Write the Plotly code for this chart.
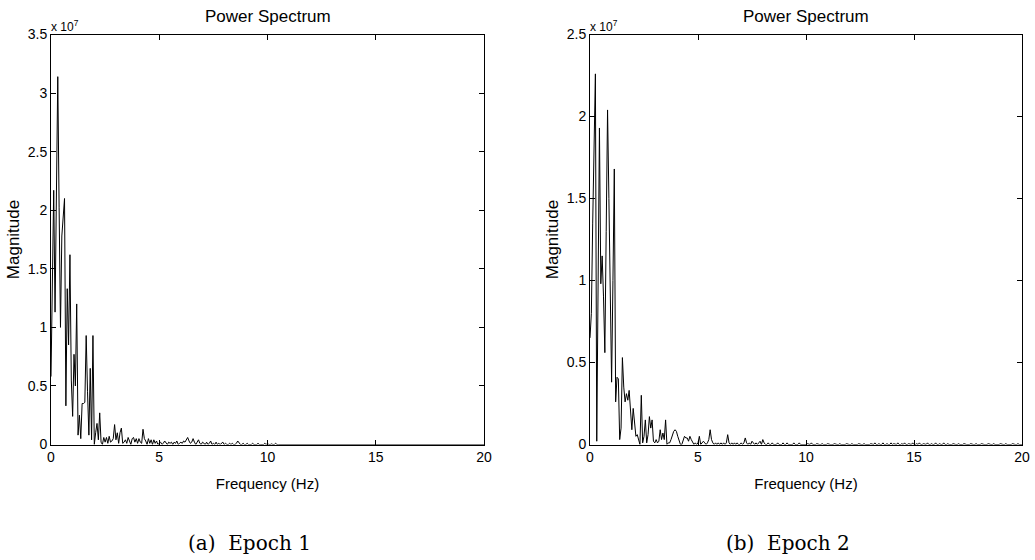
import numpy as np
import plotly.graph_objects as go

# Frequency bins (Hz) and power-spectrum magnitudes (in units of 1e7)
FREQ_STEP = 0.0625
SCALE = 1e7

epoch1 = [
    0.58, 1.38, 2.17, 1.13, 2.10, 3.14, 2.02, 1.00, 1.78, 1.96, 2.10, 0.33, 1.33, 0.85, 1.62, 0.55,
    0.24, 0.77, 0.50, 1.20, 0.08, 0.25, 0.05, 0.35, 0.35, 0.36, 0.93, 0.45, 0.08, 0.65, 0.04, 0.93,
    0.00, 0.10, 0.18, 0.04, 0.27, 0.02, 0.00, 0.06, 0.02, 0.06, 0.01, 0.07, 0.02, 0.03, 0.05, 0.17,
    0.04, 0.10, 0.01, 0.10, 0.14, 0.01, 0.02, 0.04, 0.01, 0.06, 0.03, 0.00, 0.05, 0.06, 0.02, 0.05,
    0.01, 0.05, 0.02, 0.01, 0.13, 0.05, 0.03, 0.00, 0.05, 0.01, 0.04, 0.00, 0.04, 0.01, 0.03, 0.00,
    0.01, 0.02, 0.00, 0.01, 0.03, 0.01, 0.00, 0.02, 0.01, 0.02, 0.00, 0.02, 0.01, 0.03, 0.00, 0.01,
    0.02, 0.01, 0.03, 0.02, 0.04, 0.06, 0.03, 0.01, 0.02, 0.05, 0.02, 0.00, 0.02, 0.04, 0.01, 0.00,
    0.02, 0.01, 0.00, 0.02, 0.00, 0.01, 0.03, 0.00, 0.01, 0.00, 0.02, 0.00, 0.01, 0.00, 0.01, 0.02,
    0.00, 0.01, 0.00, 0.00, 0.01, 0.00, 0.01, 0.00, 0.00, 0.01, 0.03, 0.01, 0.00, 0.00, 0.01, 0.00,
    0.00, 0.01, 0.00, 0.00, 0.00, 0.01, 0.00, 0.00, 0.00, 0.01, 0.00, 0.00, 0.00, 0.00, 0.01, 0.00,
    0.01, 0.00, 0.00, 0.005, 0.00, 0.00, 0.01, 0.00, 0.00, 0.00, 0.005, 0.00, 0.00, 0.005, 0.00, 0.00,
    0.00, 0.005, 0.00, 0.00, 0.00, 0.005, 0.00, 0.00, 0.005, 0.00, 0.00, 0.00, 0.005, 0.00, 0.00, 0.005,
    0.00, 0.00, 0.005, 0.00, 0.00, 0.00, 0.005, 0.00, 0.00, 0.005, 0.00, 0.00, 0.00, 0.005, 0.00, 0.00,
    0.005, 0.00, 0.00, 0.00, 0.005, 0.00, 0.00, 0.00, 0.005, 0.00, 0.00, 0.005, 0.00, 0.00, 0.00, 0.005,
    0.00, 0.00, 0.005, 0.00, 0.00, 0.005, 0.00, 0.00, 0.00, 0.005, 0.00, 0.00, 0.005, 0.00, 0.00, 0.00,
    0.005, 0.00, 0.00, 0.00, 0.00, 0.005, 0.00, 0.00, 0.005, 0.00, 0.00, 0.00, 0.005, 0.00, 0.00, 0.00,
    0.00, 0.005, 0.00, 0.00, 0.005, 0.00, 0.00, 0.00, 0.00, 0.005, 0.00, 0.00, 0.00, 0.005, 0.00, 0.00,
    0.005, 0.00, 0.00, 0.00, 0.005, 0.00, 0.00, 0.005, 0.00, 0.00, 0.00, 0.00, 0.005, 0.00, 0.00, 0.005,
    0.00, 0.00, 0.00, 0.005, 0.00, 0.00, 0.005, 0.00, 0.00, 0.00, 0.005, 0.00, 0.00, 0.00, 0.005, 0.00,
    0.00, 0.005, 0.00, 0.00, 0.00, 0.005, 0.00, 0.00, 0.00, 0.005, 0.00, 0.00, 0.005, 0.00, 0.00, 0.00,
    0.00,
]

epoch2 = [
    0.65, 0.80, 1.35, 1.90, 2.26, 0.02, 0.97, 1.93, 0.98, 1.15, 0.90, 0.56, 1.30, 2.04, 1.50, 0.95,
    0.38, 1.00, 1.68, 0.26, 0.41, 0.40, 0.03, 0.10, 0.53, 0.35, 0.26, 0.31, 0.27, 0.33, 0.20, 0.09,
    0.22, 0.12, 0.05, 0.06, 0.02, 0.00, 0.30, 0.01, 0.05, 0.15, 0.01, 0.06, 0.17, 0.10, 0.15, 0.02,
    0.01, 0.03, 0.01, 0.02, 0.09, 0.03, 0.07, 0.03, 0.15, 0.00, 0.01, 0.01, 0.03, 0.06, 0.08, 0.09,
    0.08, 0.05, 0.02, 0.00, 0.00, 0.02, 0.05, 0.04, 0.04, 0.02, 0.05, 0.03, 0.01, 0.00, 0.01, 0.00,
    0.01, 0.05, 0.00, 0.01, 0.02, 0.01, 0.00, 0.01, 0.03, 0.09, 0.03, 0.01, 0.00, 0.01, 0.00, 0.01,
    0.00, 0.01, 0.00, 0.01, 0.00, 0.01, 0.06, 0.01, 0.00, 0.01, 0.00, 0.01, 0.00, 0.01, 0.00, 0.00,
    0.01, 0.00, 0.01, 0.04, 0.01, 0.00, 0.01, 0.00, 0.02, 0.01, 0.00, 0.01, 0.00, 0.01, 0.02, 0.00,
    0.03, 0.01, 0.00, 0.00, 0.01, 0.00, 0.00, 0.01, 0.00, 0.00, 0.00, 0.01, 0.00, 0.00, 0.00, 0.01,
    0.00, 0.00, 0.01, 0.00, 0.00, 0.00, 0.00, 0.01, 0.00, 0.00, 0.00, 0.01, 0.00, 0.00, 0.00, 0.00,
    0.00, 0.005, 0.00, 0.00, 0.01, 0.00, 0.00, 0.00, 0.005, 0.00, 0.00, 0.00, 0.005, 0.00, 0.00, 0.00,
    0.005, 0.00, 0.00, 0.00, 0.00, 0.005, 0.00, 0.00, 0.00, 0.005, 0.00, 0.00, 0.00, 0.00, 0.005, 0.00,
    0.00, 0.00, 0.005, 0.00, 0.00, 0.00, 0.00, 0.005, 0.00, 0.00, 0.00, 0.005, 0.00, 0.00, 0.00, 0.00,
    0.005, 0.00, 0.00, 0.01, 0.00, 0.00, 0.005, 0.00, 0.00, 0.01, 0.00, 0.00, 0.005, 0.00, 0.00, 0.01,
    0.00, 0.005, 0.00, 0.00, 0.01, 0.00, 0.00, 0.005, 0.00, 0.01, 0.00, 0.00, 0.005, 0.00, 0.00, 0.01,
    0.00, 0.00, 0.005, 0.00, 0.01, 0.00, 0.00, 0.005, 0.00, 0.00, 0.01, 0.00, 0.00, 0.005, 0.00, 0.00,
    0.01, 0.00, 0.00, 0.005, 0.00, 0.00, 0.01, 0.00, 0.00, 0.005, 0.00, 0.00, 0.00, 0.005, 0.00, 0.00,
    0.00, 0.005, 0.00, 0.00, 0.00, 0.005, 0.00, 0.00, 0.00, 0.00, 0.005, 0.00, 0.00, 0.00, 0.005, 0.00,
    0.00, 0.00, 0.005, 0.00, 0.00, 0.00, 0.00, 0.005, 0.00, 0.00, 0.00, 0.005, 0.00, 0.00, 0.00, 0.00,
    0.005, 0.00, 0.00, 0.00, 0.005, 0.00, 0.00, 0.00, 0.00, 0.005, 0.00, 0.00, 0.00, 0.005, 0.00, 0.00,
    0.00,
]

y1_ticks = [0, 0.5, 1, 1.5, 2, 2.5, 3, 3.5]
y2_ticks = [0, 0.5, 1, 1.5, 2, 2.5]
x_ticks = [0, 5, 10, 15, 20]
titles = ["Power Spectrum", "Power Spectrum"]
captions = ["(a)\u00a0\u00a0Epoch 1", "(b)\u00a0\u00a0Epoch 2"]
x_label = "Frequency (Hz)"
y_label = "Magnitude"
exp_label = "x 10<sup>7</sup>"

freq1 = np.arange(len(epoch1)) * FREQ_STEP
freq2 = np.arange(len(epoch2)) * FREQ_STEP
mag1 = np.array(epoch1) * SCALE
mag2 = np.array(epoch2) * SCALE

W, H = 1035, 560
SANS = "Liberation Sans, Arial, Helvetica, sans-serif"
SERIF = "DejaVu Serif, serif"

def px(x):
    return x / W

def py(y):
    return (H - y) / H

top, bottom = 34.5, 444.5
left_dom = [px(51), px(484)]
right_dom = [px(590), px(1022)]
ydom = [py(bottom), py(top)]

fig = go.Figure()
fig.add_trace(go.Scatter(x=freq1, y=mag1, mode="lines",
                         line=dict(color="black", width=1), xaxis="x", yaxis="y",
                         showlegend=False, hoverinfo="skip"))
fig.add_trace(go.Scatter(x=freq2, y=mag2, mode="lines",
                         line=dict(color="black", width=1), xaxis="x2", yaxis="y2",
                         showlegend=False, hoverinfo="skip"))

axis_common = dict(showline=True, linecolor="black", linewidth=1, mirror="ticks",
                   ticks="inside", ticklen=5, tickcolor="black", tickwidth=1,
                   showgrid=False, zeroline=False, automargin=False,
                   tickfont=dict(family=SANS, size=14, color="black"))
xtitle_font = dict(family=SANS, size=15, color="black")
ytitle_font = dict(family=SANS, size=17, color="black")

fig.update_layout(
    width=W, height=H, margin=dict(l=0, r=0, t=0, b=0, autoexpand=False),
    paper_bgcolor="white", plot_bgcolor="white",
    xaxis=dict(domain=left_dom, anchor="y", range=[0, 20], tickvals=x_ticks,
               title=dict(text=x_label, font=xtitle_font, standoff=14), **axis_common),
    yaxis=dict(domain=ydom, anchor="x", range=[0, 3.5 * SCALE],
               tickvals=[t * SCALE for t in y1_ticks], ticktext=[f"{t:g}" for t in y1_ticks],
               title=dict(text=y_label, font=ytitle_font, standoff=3), **axis_common),
    xaxis2=dict(domain=right_dom, anchor="y2", range=[0, 20], tickvals=x_ticks,
                title=dict(text=x_label, font=xtitle_font, standoff=14), **axis_common),
    yaxis2=dict(domain=ydom, anchor="x2", range=[0, 2.5 * SCALE],
                tickvals=[t * SCALE for t in y2_ticks], ticktext=[f"{t:g}" for t in y2_ticks],
                title=dict(text=y_label, font=ytitle_font, standoff=3), **axis_common),
)

annotations = []
for i, dom in enumerate([left_dom, right_dom]):
    cx = (dom[0] + dom[1]) / 2
    annotations.append(dict(text=titles[i], x=cx, y=py(16), xref="paper", yref="paper",
                            xanchor="center", yanchor="middle", showarrow=False,
                            font=dict(family=SANS, size=17, color="black")))
    annotations.append(dict(text=exp_label, x=dom[0], y=py(top + 1), xref="paper", yref="paper",
                            xanchor="left", yanchor="bottom", showarrow=False, xshift=-2,
                            font=dict(family=SANS, size=12, color="black")))
    cap_x = px(249) if i == 0 else px(788)
    annotations.append(dict(text=captions[i], x=cap_x, y=py(543), xref="paper", yref="paper",
                            xanchor="center", yanchor="middle", showarrow=False,
                            font=dict(family=SERIF, size=20, color="black")))
fig.update_layout(annotations=annotations)

fig.write_html("out.html")
